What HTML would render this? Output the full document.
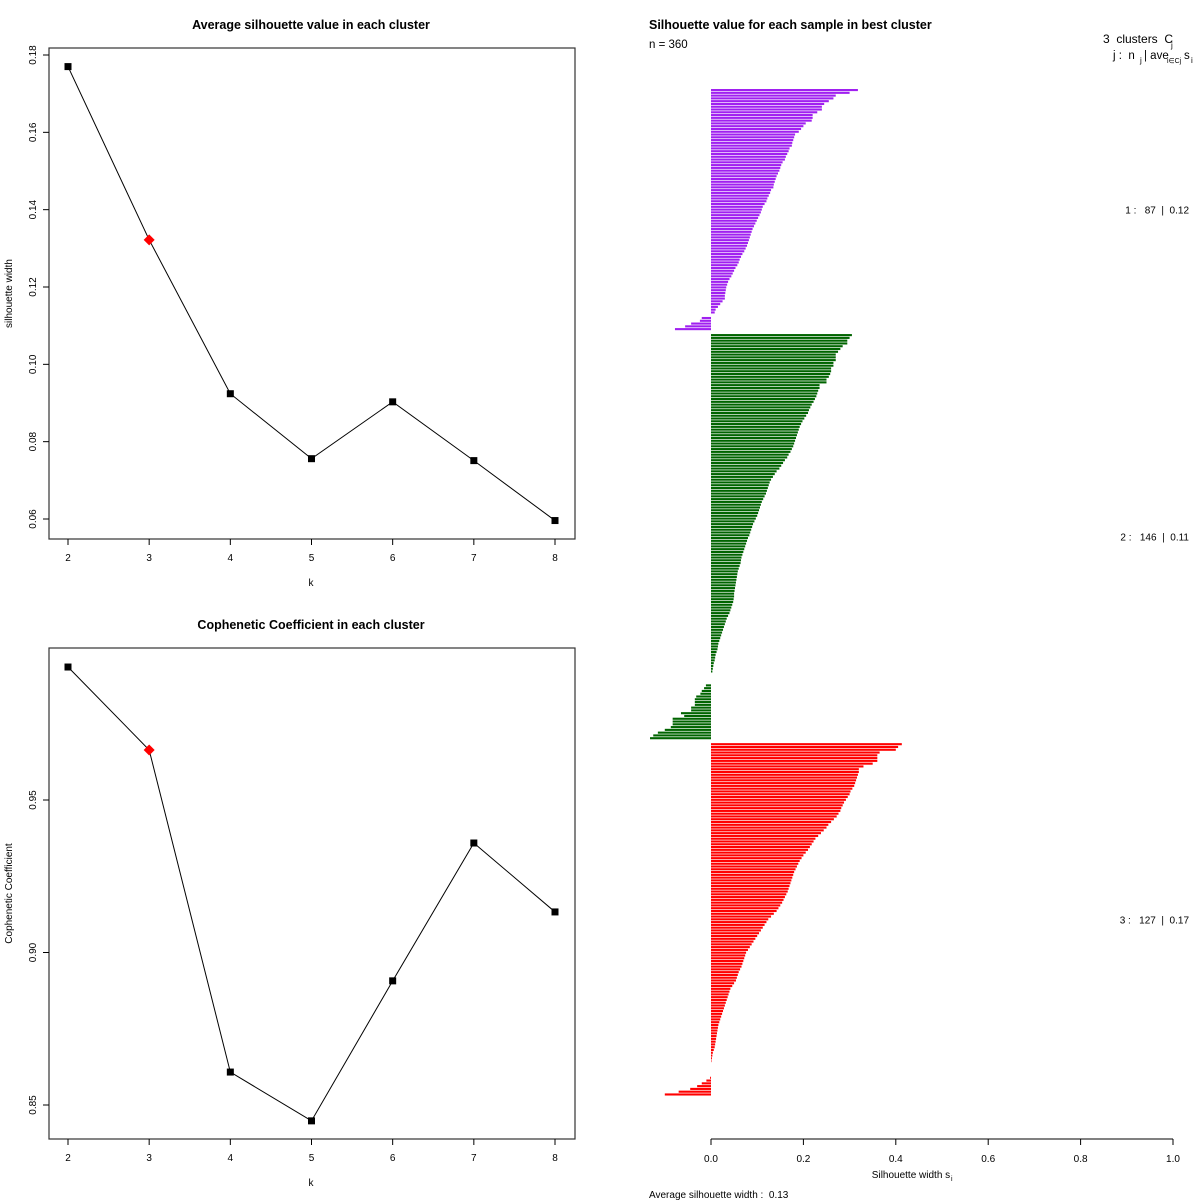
<!DOCTYPE html>
<html><head><meta charset="utf-8">
<style>
html,body{margin:0;padding:0;background:#fff;}
svg{display:block;font-family:"Liberation Sans",Arial,sans-serif;}
svg text{white-space:pre;}
</style></head>
<body>
<svg id="root" width="1200" height="1200" viewBox="0 0 1200 1200" xmlns="http://www.w3.org/2000/svg" xml:space="preserve">
<rect width="1200" height="1200" fill="#fff"/>
<g id="p1"></g>
<g id="p2"></g>
<g id="p3"></g>
</svg>
<script>
const kValues = [2,3,4,5,6,7,8];
const silhouetteAvg = [0.1770,0.1322,0.0924,0.0756,0.0903,0.0751,0.0596];
const silTicks = [0.06,0.08,0.10,0.12,0.14,0.16,0.18];
const silTickLabels = ["0.06","0.08","0.10","0.12","0.14","0.16","0.18"];
const cophenetic = [0.9936,0.9664,0.8608,0.8448,0.8907,0.9359,0.9133];
const copTicks = [0.85,0.90,0.95];
const copTickLabels = ["0.85","0.90","0.95"];
const bestK = 3;

const cluster1 = [0.318,0.300,0.270,0.265,0.255,0.245,0.240,0.240,0.230,0.220,0.220,0.218,0.205,0.200,0.195,0.190,0.182,0.180,0.178,0.176,0.175,0.170,0.168,0.165,0.162,0.160,0.155,0.152,0.150,0.148,0.145,0.142,0.140,0.138,0.136,0.135,0.130,0.128,0.125,0.122,0.120,0.116,0.112,0.110,0.108,0.105,0.102,0.099,0.096,0.093,0.090,0.088,0.086,0.084,0.082,0.080,0.078,0.075,0.072,0.068,0.065,0.062,0.060,0.057,0.053,0.050,0.047,0.044,0.040,0.037,0.035,0.033,0.032,0.031,0.030,0.030,0.025,0.020,0.015,0.010,0.008,0,-0.020,-0.024,-0.043,-0.056,-0.078];
const cluster2 = [0.305,0.300,0.295,0.295,0.285,0.280,0.275,0.270,0.270,0.270,0.265,0.265,0.260,0.260,0.258,0.255,0.250,0.250,0.235,0.235,0.232,0.230,0.228,0.225,0.222,0.218,0.215,0.212,0.210,0.206,0.202,0.198,0.195,0.192,0.190,0.188,0.186,0.184,0.182,0.180,0.178,0.175,0.172,0.168,0.165,0.160,0.156,0.152,0.148,0.142,0.138,0.134,0.130,0.127,0.125,0.123,0.121,0.119,0.116,0.113,0.110,0.108,0.106,0.104,0.102,0.100,0.097,0.094,0.091,0.089,0.087,0.085,0.083,0.080,0.078,0.076,0.074,0.072,0.070,0.068,0.066,0.065,0.064,0.062,0.060,0.058,0.057,0.056,0.055,0.054,0.053,0.052,0.051,0.050,0.050,0.049,0.048,0.046,0.044,0.042,0.040,0.037,0.034,0.032,0.030,0.028,0.026,0.024,0.022,0.020,0.018,0.016,0.015,0.014,0.012,0.010,0.009,0.008,0.006,0.005,0.004,0.003,0,0,0,0,-0.011,-0.015,-0.020,-0.023,-0.032,-0.035,-0.035,-0.035,-0.043,-0.043,-0.065,-0.058,-0.083,-0.083,-0.083,-0.087,-0.100,-0.115,-0.125,-0.132];
const cluster3 = [0.413,0.405,0.400,0.365,0.360,0.360,0.360,0.350,0.330,0.320,0.320,0.318,0.316,0.314,0.312,0.310,0.306,0.302,0.300,0.296,0.292,0.288,0.285,0.282,0.280,0.276,0.272,0.266,0.260,0.254,0.250,0.244,0.238,0.232,0.226,0.222,0.218,0.214,0.210,0.205,0.200,0.196,0.192,0.189,0.186,0.183,0.180,0.178,0.176,0.174,0.172,0.170,0.168,0.166,0.163,0.160,0.157,0.154,0.150,0.146,0.142,0.136,0.130,0.124,0.120,0.116,0.112,0.108,0.104,0.100,0.096,0.092,0.088,0.084,0.080,0.076,0.074,0.072,0.070,0.068,0.066,0.063,0.060,0.058,0.056,0.054,0.050,0.046,0.042,0.040,0.038,0.036,0.034,0.032,0.030,0.028,0.026,0.024,0.022,0.020,0.018,0.016,0.015,0.014,0.013,0.012,0.011,0.010,0.009,0.008,0.006,0.004,0.003,0.002,0.001,0,0,0,0,0,-0.002,-0.010,-0.020,-0.030,-0.045,-0.070,-0.100];
const clusterColors = ["#a020f0","#006400","#ff0000"];
const clusterLabels = ["1 :   87  |  0.12","2 :   146  |  0.11","3 :   127  |  0.17"];
const silXTicks = [0,0.2,0.4,0.6,0.8,1.0];
const silXTickLabels = ["0.0","0.2","0.4","0.6","0.8","1.0"];

const NS="http://www.w3.org/2000/svg";
function mk(parent,tag,attrs,text){
  const e=document.createElementNS(NS,tag);
  for(const k in attrs) e.setAttribute(k,attrs[k]);
  if(text!==undefined) e.textContent=text;
  parent.appendChild(e); return e;
}

function linePanel(g,cfg){
  const {top,bottom,vals,ticks,labels,y0v,y0p,y1v,y1p,title,ylab,titleY} = cfg;
  const left=49,right=575;
  const xs=k=>68+(k-2)*(555-68)/6;
  const ys=v=>y0p+(v-y0v)*(y1p-y0p)/(y1v-y0v);
  let t=mk(g,'text',{x:311,y:titleY,'text-anchor':'middle','font-size':12.5,'font-weight':'bold'},title);
  
  
  let b=mk(g,'rect',{x:left,y:top,width:right-left,height:bottom-top,fill:'none',stroke:'#333','stroke-width':1.2});
  
  
  kValues.forEach(k=>{
    const x=xs(k);
    mk(g,'line',{x1:x,y1:bottom,x2:x,y2:bottom+6,stroke:'#000'});
    let tl=mk(g,'text',{x:x,y:bottom+22,'text-anchor':'middle','font-size':10},String(k));
    
    
  });
  let xl=mk(g,'text',{x:311,y:bottom+47,'text-anchor':'middle','font-size':10},'k');
  
  
  ticks.forEach((v,i)=>{
    const y=ys(v);
    mk(g,'line',{x1:left,y1:y,x2:left-6,y2:y,stroke:'#000'});
    let tl=mk(g,'text',{x:0,y:0,'text-anchor':'middle','font-size':10,transform:`translate(36,${y}) rotate(-90)`},labels[i]);
    
    
  });
  let yl=mk(g,'text',{x:0,y:0,'text-anchor':'middle','font-size':10,transform:`translate(12,${(top+bottom)/2}) rotate(-90)`},ylab);
  
  
  const pts=vals.map((v,i)=>xs(kValues[i])+','+ys(v)).join(' ');
  let pl=mk(g,'polyline',{points:pts,fill:'none',stroke:'#000','stroke-width':1});
  
  
  vals.forEach((v,i)=>{
    const x=xs(kValues[i]),y=ys(v);
    let p;
    if(kValues[i]===bestK){
      p=mk(g,'polygon',{points:`${x},${y-5.5} ${x+5.5},${y} ${x},${y+5.5} ${x-5.5},${y}`,fill:'#ff0000'});
      
    } else {
      p=mk(g,'rect',{x:x-3.5,y:y-3.5,width:7,height:7,fill:'#000'});
      
    }
    
  });
}

linePanel(document.getElementById('p1'),{top:48,bottom:539,vals:silhouetteAvg,ticks:silTicks,labels:silTickLabels,
  y0v:0.06,y0p:519,y1v:0.18,y1p:55,title:'Average silhouette value in each cluster',ylab:'silhouette width',titleY:29});
linePanel(document.getElementById('p2'),{top:648,bottom:1139,vals:cophenetic,ticks:copTicks,labels:copTickLabels,
  y0v:0.85,y0p:1105,y1v:0.95,y1p:800,title:'Cophenetic Coefficient in each cluster',ylab:'Cophenetic Coefficient',titleY:629});

(function(){
  const g=document.getElementById('p3');
  const x0=711,scale=462;
  const xs=v=>x0+v*scale;
  const pitch=2.78, gap=3.2;
  let t=mk(g,'text',{x:649,y:29,'font-size':12.5,'font-weight':'bold'},'Silhouette value for each sample in best cluster');
  
  
  let n=mk(g,'text',{x:649,y:48,'font-size':11.5},'n = 360');
  
  
  let l1=mk(g,'text',{x:1103,y:43,'font-size':12},'3  clusters  C');
  
  
  mk(g,'text',{x:1171,y:48,'font-size':8},'j');
  let l2=mk(g,'text',{x:1113,y:59,'font-size':11.5},'j :  n');
  
  
  mk(g,'text',{x:1140,y:63,'font-size':8},'j');
  mk(g,'text',{x:1144,y:59,'font-size':11.5},'| ave');
  mk(g,'text',{x:1167,y:63,'font-size':7},'i∈Cj');
  mk(g,'text',{x:1184,y:59,'font-size':11.5},'s');
  mk(g,'text',{x:1191,y:63,'font-size':8},'i');
  const clusters=[cluster1,cluster2,cluster3];
  let y=90;
  clusters.forEach((c,ci)=>{
    const startY=y;
    c.forEach(v=>{
      if(v!==0){
        const xa=Math.min(xs(0),xs(v)), w=Math.abs(xs(v)-xs(0));
        let r=mk(g,'rect',{x:xa,y:y-1,width:w,height:2.1,fill:clusterColors[ci]});
        
        
      }
      y+=pitch;
    });
    const midY=(startY+y-pitch)/2;
    let lab=mk(g,'text',{x:1189,y:midY+4,'text-anchor':'end','font-size':10},clusterLabels[ci]);
    
    
    y+=gap;
  });
  const axY=1139;
  let ax=mk(g,'line',{x1:xs(0),y1:axY,x2:xs(1),y2:axY,stroke:'#000'});
  
  
  silXTicks.forEach((v,i)=>{
    mk(g,'line',{x1:xs(v),y1:axY,x2:xs(v),y2:axY+6,stroke:'#000'});
    let tl=mk(g,'text',{x:xs(v),y:axY+23,'text-anchor':'middle','font-size':10},silXTickLabels[i]);
    
    
  });
  let xt=mk(g,'text',{x:911,y:1178,'text-anchor':'middle','font-size':10},'Silhouette width s');
  
  
  mk(g,'text',{x:951,y:1181,'font-size':7},'i');
  let av=mk(g,'text',{x:649,y:1198,'font-size':10},'Average silhouette width :  0.13');
  
  
})();
</script>
</body></html>
